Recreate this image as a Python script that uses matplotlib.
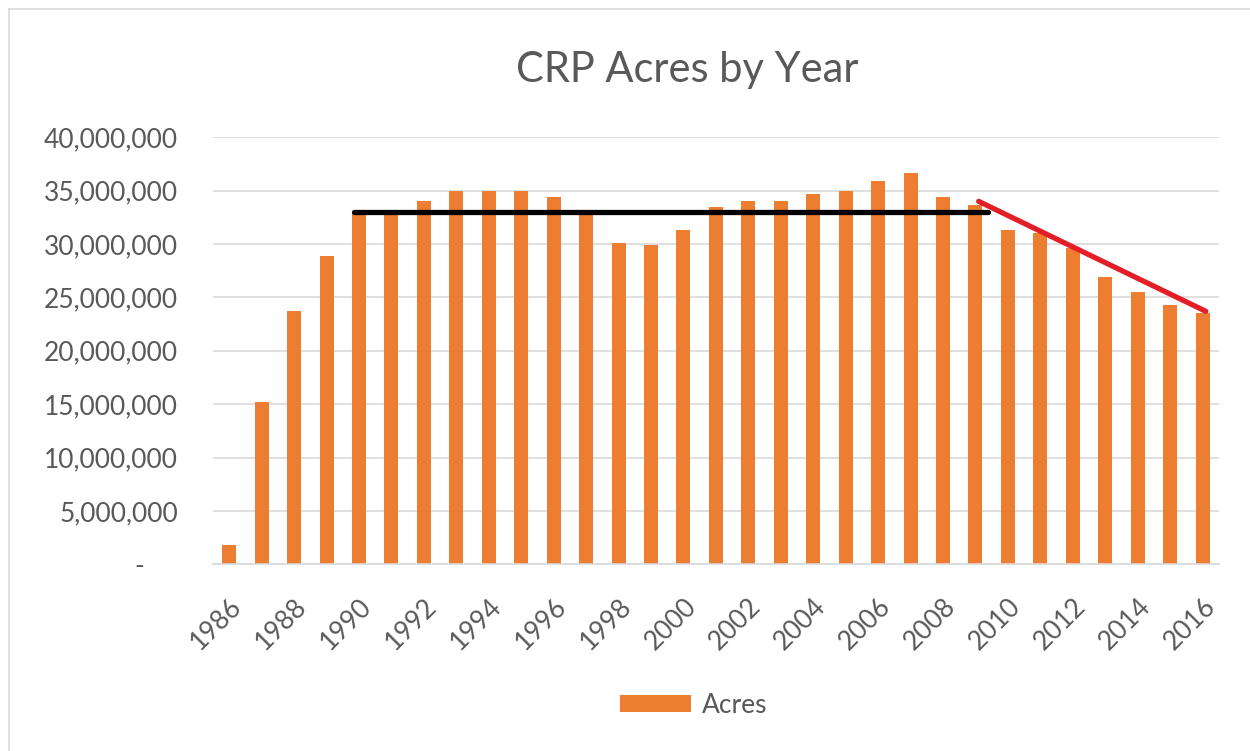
import matplotlib
matplotlib.use("Agg")
import matplotlib.pyplot as plt
from matplotlib.lines import Line2D
from matplotlib.ticker import FuncFormatter, MultipleLocator

# data
years = list(range(1986, 2017))
acres = [1.8e6, 15.2e6, 23.7e6, 28.9e6, 32.8e6, 32.8e6, 34.0e6, 35.0e6, 35.0e6, 35.0e6,
         34.4e6, 32.7e6, 30.1e6, 29.9e6, 31.3e6, 33.5e6, 34.0e6, 34.0e6, 34.7e6, 35.0e6,
         35.9e6, 36.7e6, 34.4e6, 33.7e6, 31.3e6, 31.0e6, 29.6e6, 26.9e6, 25.5e6, 24.3e6,
         23.5e6]
tick_years = list(range(1986, 2017, 2))

# hand-drawn annotation lines
flat_x = [1989.85, 2009.4]
flat_y = [33.0e6, 33.0e6]
decline_x = [2009.1, 2016.1]
decline_y = [34.0e6, 23.7e6]

ORANGE = "#ED7D31"
GREY_TXT = "#595959"
GRID = "#d9d9d9"
plt.rcParams["font.family"] = ["Lato", "DejaVu Sans"]

fig = plt.figure(figsize=(12.5, 7.51), dpi=100)
ax = fig.add_axes([0.1704, 0.2486, 0.975 - 0.1704, 0.8172 - 0.2486])

ax.bar(years, acres, width=0.43, color=ORANGE, zorder=2, label="Acres")
ax.plot(flat_x, flat_y, color="black", lw=3.8, solid_capstyle="round", zorder=3)
ax.plot(decline_x, decline_y, color="#E21F26", lw=3.8, solid_capstyle="round", zorder=3)

ax.set_xlim(1985.5, 2016.5)
ax.set_ylim(0, 40e6)
ax.yaxis.set_major_locator(MultipleLocator(5e6))
ax.yaxis.set_major_formatter(FuncFormatter(lambda v, p: "-     " if v == 0 else f"{v:,.0f}"))
ax.set_xticks(tick_years)
ax.set_xticklabels([str(y) for y in tick_years], rotation=45, ha="right",
                   rotation_mode="anchor")
ax.tick_params(axis="both", length=0, colors=GREY_TXT, labelsize=19)
ax.tick_params(axis="y", pad=25)
ax.tick_params(axis="x", pad=21)
ax.grid(axis="y", color=GRID, lw=1.2, zorder=0)
for s in ("top", "right", "left"):
    ax.spines[s].set_visible(False)
ax.spines["bottom"].set_color(GRID)
ax.spines["bottom"].set_linewidth(1.2)

fig.text(0.55, 0.907, "CRP Acres by Year", ha="center", va="center",
         fontsize=30, color=GREY_TXT)

fig.legend(loc="center", bbox_to_anchor=(0.555, 0.061), frameon=False,
           fontsize=19, labelcolor=GREY_TXT, handlelength=2.7, handleheight=0.65,
           handletextpad=0.4)

# faint chart-area border (left and top edges visible)
fig.add_artist(Line2D([9 / 1250, 9 / 1250], [0, 1 - 9 / 751], color=GRID, lw=1.2,
                      transform=fig.transFigure))
fig.add_artist(Line2D([9 / 1250, 1], [1 - 9 / 751, 1 - 9 / 751], color=GRID, lw=1.2,
                      transform=fig.transFigure))

fig.savefig("out.png", dpi=100)
